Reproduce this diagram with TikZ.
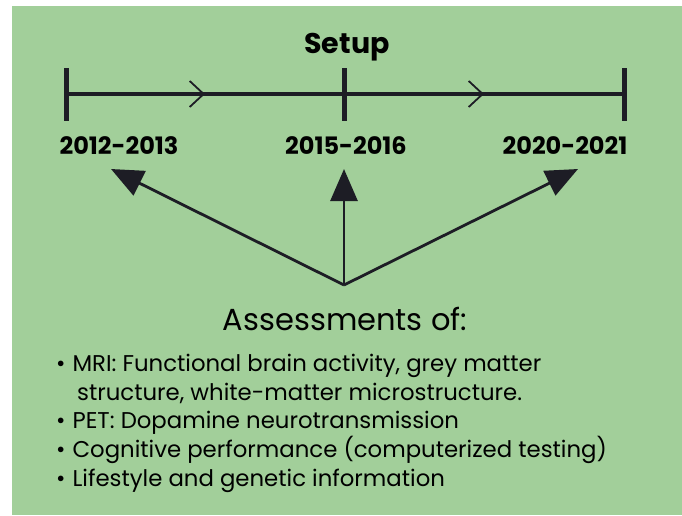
\documentclass[tikz,border=0pt]{standalone}
\usepackage{fontspec}
\setmainfont{Poppins}
\usetikzlibrary{arrows.meta,decorations.markings}
\definecolor{panelgreen}{RGB}{162,207,154}
\definecolor{ink}{RGB}{29,29,37}
\newcommand{\itembullet}{\textbullet\hspace{7pt}}
\tikzset{
  timeline/.style={draw=ink, line width=4.5pt,
    postaction={decorate, decoration={markings,
      mark=at position 0.5 with {\arrow[ink, line width=1.8pt]{Straight Barb[length=14pt,width=26pt]}}}}},
  tickmark/.style={draw=ink, line width=5pt},
  yearlabel/.style={font=\fontsize{24}{28}\selectfont\bfseries, text=black, inner sep=0pt, anchor=base},
  pointer/.style={draw=ink, line width=2.8pt, -{Triangle[length=32pt,width=27pt]}},
  itemline/.style={font=\fontsize{22.8}{27}\selectfont, text=black, inner sep=0pt, anchor=base west},
}
\begin{document}
\begin{tikzpicture}[x=1pt,y=-1pt]
\useasboundingbox (0,0) rectangle (682,515);
\fill[panelgreen] (12,6) rectangle (682,515);

% title
\node[font=\fontsize{28.5}{32}\selectfont\bfseries, inner sep=0pt, anchor=base] (setup) at (347,53) {Setup};

% timeline with end and middle ticks
\coordinate (t1) at (66,94);
\coordinate (t2) at (344,94);
\coordinate (t3) at (624,94);
\coordinate (t1top) at (66,68);  \coordinate (t1bot) at (66,121);
\coordinate (t2top) at (344,68); \coordinate (t2bot) at (344,121);
\coordinate (t3top) at (624,68); \coordinate (t3bot) at (624,121);
\path[timeline] (t1) -- (t2);
\path[timeline] (t2) -- (t3);
\draw[tickmark] (t1top) -- (t1bot);
\draw[tickmark] (t2top) -- (t2bot);
\draw[tickmark] (t3top) -- (t3bot);

% years
\node[yearlabel] (y1) at (119,154) {2012-2013};
\node[yearlabel] (y2) at (346,154) {2015-2016};
\node[yearlabel] (y3) at (565,154) {2020-2021};

% pointers from the assessments to each wave
\coordinate (apex) at (344,285);
\coordinate (p1) at (111,169);
\coordinate (p2) at (344,169);
\coordinate (p3) at (578,169);
\draw[pointer] (apex) -- (p1);
\draw[pointer] (apex) -- (p2);
\draw[pointer] (apex) -- (p3);

% assessments
\node[font=\fontsize{30.5}{34}\selectfont, inner sep=0pt, anchor=base] (head) at (345,330) {Assessments of:};
\node[itemline] (i1) at (56,371) {\itembullet MRI: Functional brain activity, grey matter};
\node[itemline] (i1b) at (77,400) {structure, white-matter microstructure.};
\node[itemline] (i2) at (56,428) {\itembullet PET: Dopamine neurotransmission};
\node[itemline] (i3) at (56,457) {\itembullet Cognitive performance (computerized testing)};
\node[itemline] (i4) at (56,486) {\itembullet Lifestyle and genetic information};
\end{tikzpicture}
\end{document}
